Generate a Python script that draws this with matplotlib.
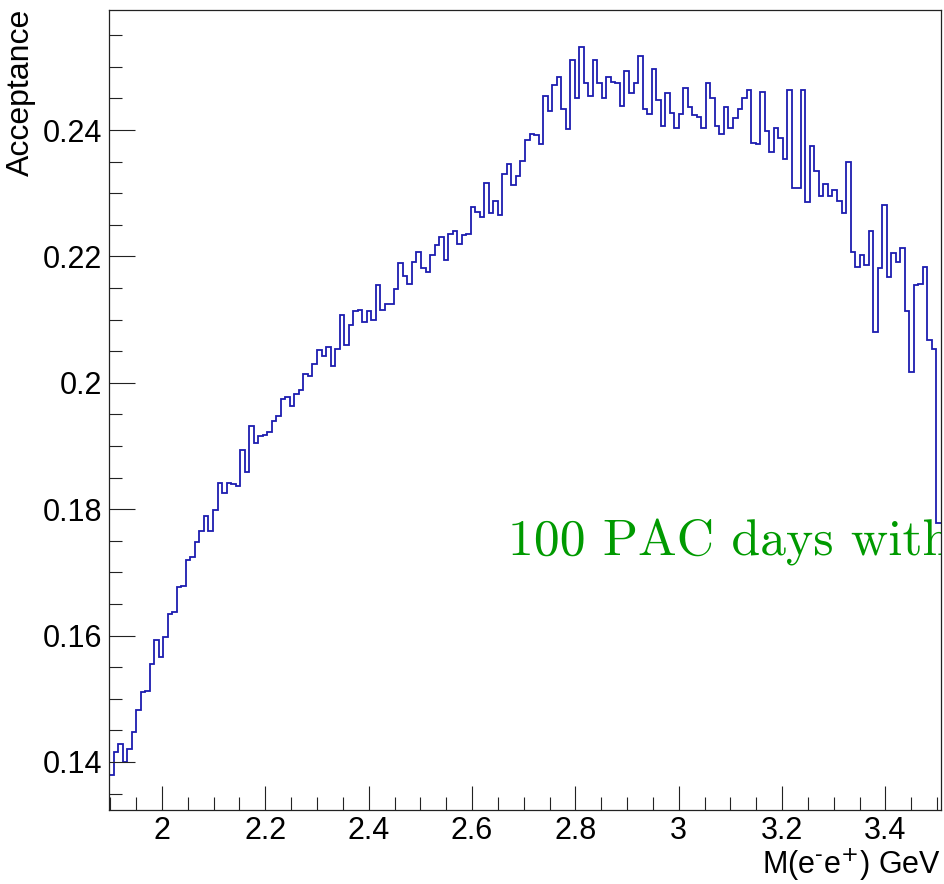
import numpy as np
import matplotlib.pyplot as plt
from matplotlib.ticker import MultipleLocator, FixedLocator, FixedFormatter

# histogram binning (visible part)
bin_start = 1.8975
bin_width = 0.00875

acceptance = [
    0.1379, 0.1415, 0.1428, 0.1400, 0.1421, 0.1447, 0.1482, 0.1511, 0.1513, 0.1555,
    0.1593, 0.1566, 0.1597, 0.1634, 0.1638, 0.1677, 0.1678, 0.1719, 0.1724, 0.1748,
    0.1765, 0.1789, 0.1766, 0.1799, 0.1842, 0.1825, 0.1841, 0.1840, 0.1837, 0.1894,
    0.1859, 0.1932, 0.1905, 0.1916, 0.1917, 0.1922, 0.1940, 0.1947, 0.1974, 0.1978,
    0.1964, 0.1982, 0.1989, 0.2014, 0.2011, 0.2030, 0.2052, 0.2043, 0.2056, 0.2026,
    0.2054, 0.2107, 0.2060, 0.2091, 0.2114, 0.2115, 0.2096, 0.2113, 0.2100, 0.2155,
    0.2116, 0.2125, 0.2125, 0.2148, 0.2189, 0.2169, 0.2156, 0.2192, 0.2207, 0.2181,
    0.2176, 0.2203, 0.2218, 0.2230, 0.2194, 0.2235, 0.2240, 0.2220, 0.2234, 0.2236,
    0.2279, 0.2271, 0.2262, 0.2316, 0.2268, 0.2288, 0.2266, 0.2330, 0.2347, 0.2313,
    0.2327, 0.2351, 0.2384, 0.2394, 0.2392, 0.2378, 0.2454, 0.2430, 0.2471, 0.2484,
    0.2434, 0.2402, 0.2511, 0.2450, 0.2531, 0.2474, 0.2454, 0.2511, 0.2474, 0.2450,
    0.2484, 0.2476, 0.2474, 0.2438, 0.2493, 0.2459, 0.2475, 0.2517, 0.2433, 0.2426,
    0.2496, 0.2447, 0.2406, 0.2458, 0.2427, 0.2403, 0.2426, 0.2467, 0.2437, 0.2424,
    0.2420, 0.2404, 0.2474, 0.2450, 0.2406, 0.2393, 0.2437, 0.2404, 0.2419, 0.2433,
    0.2450, 0.2463, 0.2380, 0.2378, 0.2461, 0.2398, 0.2365, 0.2404, 0.2387, 0.2354,
    0.2463, 0.2309, 0.2309, 0.2463, 0.2286, 0.2375, 0.2336, 0.2295, 0.2315, 0.2295,
    0.2305, 0.2287, 0.2268, 0.2349, 0.2207, 0.2183, 0.2202, 0.2187, 0.2240, 0.2080,
    0.2181, 0.2281, 0.2168, 0.2205, 0.2192, 0.2214, 0.2113, 0.2017, 0.2155, 0.2157,
    0.2183, 0.2068, 0.2053, 0.1778,
]

x_ticks = [2.0, 2.2, 2.4, 2.6, 2.8, 3.0, 3.2, 3.4]
x_tick_labels = ['2', '2.2', '2.4', '2.6', '2.8', '3', '3.2', '3.4']
y_ticks = [0.14, 0.16, 0.18, 0.20, 0.22, 0.24]
y_tick_labels = ['0.14', '0.16', '0.18', '0.2', '0.22', '0.24']

plt.rcParams['font.family'] = ['Liberation Sans', 'DejaVu Sans']

fig = plt.figure(figsize=(9.44, 8.84), dpi=100)
ax = fig.add_axes([109 / 944, 74 / 884, 832 / 944, 800 / 884])

edges = bin_start + bin_width * np.arange(len(acceptance) + 1)
ax.stairs(acceptance, edges, color='#1c1cb0', linewidth=1.3, baseline=None)

ax.set_xlim(bin_start, edges[-1])
ax.set_ylim(0.1324, 0.2590)

ax.xaxis.set_major_locator(FixedLocator(x_ticks))
ax.xaxis.set_major_formatter(FixedFormatter(x_tick_labels))
ax.xaxis.set_minor_locator(MultipleLocator(0.05))
ax.yaxis.set_major_locator(FixedLocator(y_ticks))
ax.yaxis.set_major_formatter(FixedFormatter(y_tick_labels))
ax.yaxis.set_minor_locator(MultipleLocator(0.005))

ax.tick_params(axis='both', which='both', direction='in', color='#222222', width=0.8,
               labelsize=22, top=False, right=False)
ax.tick_params(axis='y', which='major', length=19, pad=5)
ax.tick_params(axis='y', which='minor', length=9.5)
ax.tick_params(axis='x', which='major', length=17, pad=4)
ax.tick_params(axis='x', which='minor', length=9.5)

for sp in ax.spines.values():
    sp.set_linewidth(0.9)
    sp.set_color('#222222')

fig.text(941 / 944, 10 / 884, r'M(e$^{\text{-}}$e$^{+}$) GeV', ha='right', va='baseline', fontsize=22)
fig.text(6 / 944, 1 - 9 / 884, 'Acceptance', rotation=90, ha='left', va='top', fontsize=23)

ax.text(2.6696, 0.17275, '100 PAC days with', color='#009a00', fontfamily='cmr10',
        fontsize=37.2, ha='left', va='baseline', clip_on=True)

fig.savefig('out.png', dpi=100)
